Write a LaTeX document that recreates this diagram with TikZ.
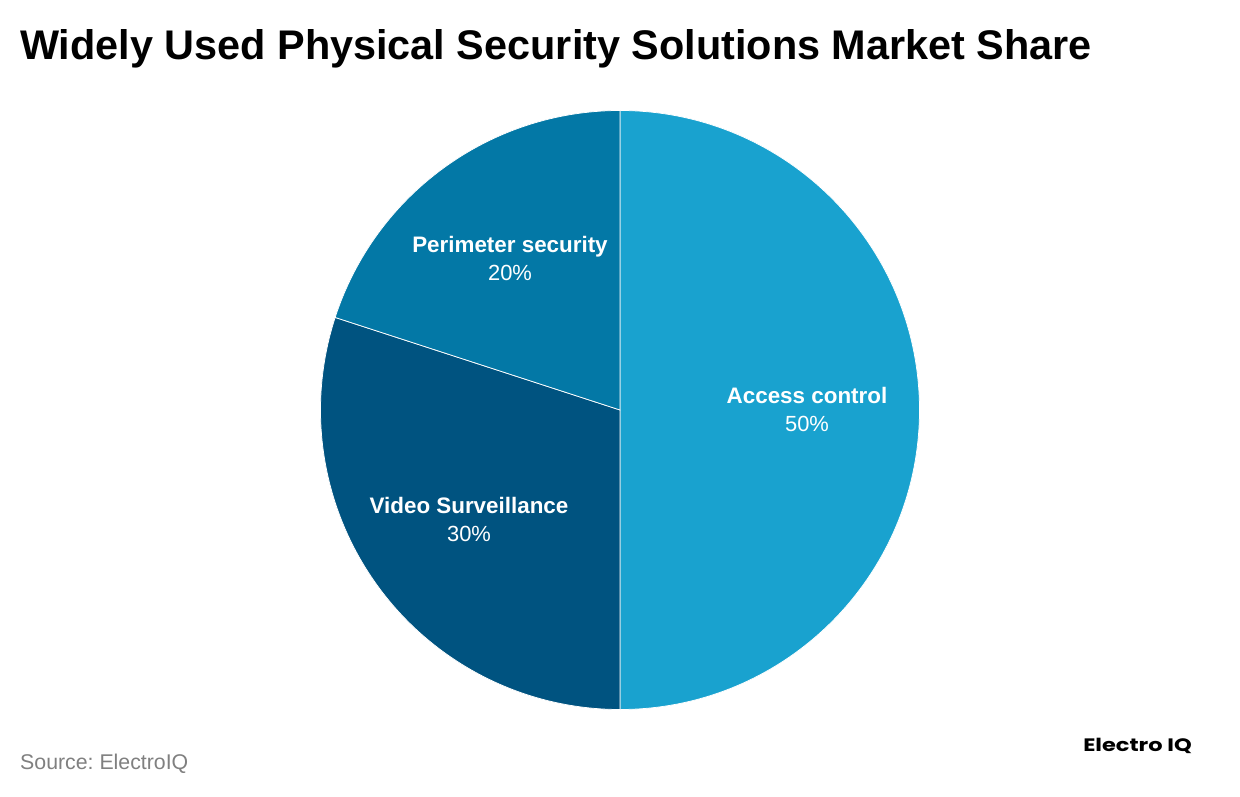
\documentclass[tikz,border=0pt]{standalone}
\usepackage{fontspec}
\setmainfont{Liberation Sans}
\newfontfamily\logofont{Poppins}
\definecolor{cA}{HTML}{19A2CF}
\definecolor{cB}{HTML}{005380}
\definecolor{cC}{HTML}{0378A6}
\newcommand{\labhead}{\fontsize{22.4}{28}\selectfont\bfseries}
\tikzset{x=1pt,y=1pt,
 slice/.style={draw=white,line width=0.75pt},
 lab/.style={text=white,align=center,inner sep=0pt,font=\fontsize{21.9}{28}\selectfont}}
\begin{document}
\begin{tikzpicture}
\useasboundingbox (0,0) rectangle (1240,796);
\fill[white] (0,0) rectangle (1240,796);
\coordinate (c) at (620,386);
\filldraw[slice,fill=cA] (c) -- ++(0,299.5) arc[start angle=90,end angle=-90,radius=299.5] -- cycle;
\filldraw[slice,fill=cB] (c) -- ++(0,-299.5) arc[start angle=270,end angle=162,radius=299.5] -- cycle;
\filldraw[slice,fill=cC] (c) -- ++(162:299.5) arc[start angle=162,end angle=90,radius=299.5] -- cycle;
\node[anchor=west,inner sep=0pt] (title) at (20,747) {\bfseries\fontsize{41.4}{46}\selectfont Widely Used Physical Security Solutions Market Share};
\node[lab] (a) at (807,387) {{\labhead Access control}\\50\%};
\node[lab] (b) at (469,277) {{\labhead Video Surveillance}\\30\%};
\node[lab] (d) at (510,538) {{\labhead Perimeter security}\\20\%};
\node[anchor=west,inner sep=0pt,text=black!50] (s) at (20,32) {\frenchspacing\fontsize{21.3}{25}\selectfont Source: ElectroIQ};
\node[anchor=west,inner sep=0pt,xscale=1.25] (l) at (1083,50) {\logofont\bfseries\fontsize{18}{20}\selectfont Electro IQ};
\end{tikzpicture}
\end{document}
